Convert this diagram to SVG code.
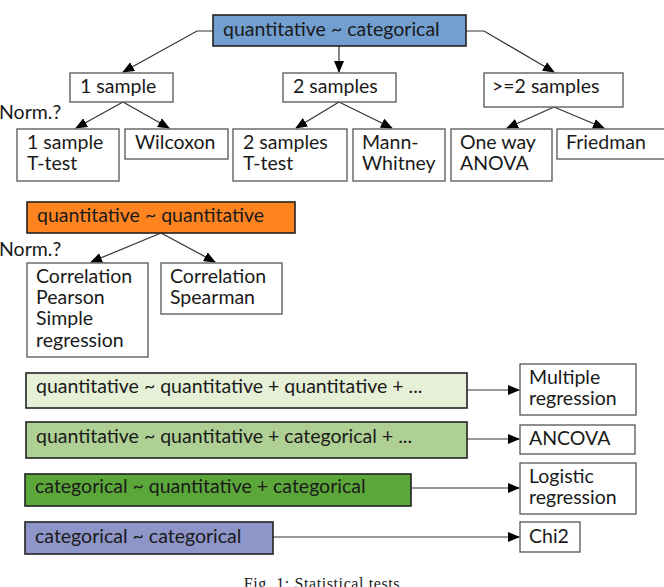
<svg xmlns="http://www.w3.org/2000/svg" width="664" height="587" viewBox="0 0 664 587">
<defs>
<marker id="ah" markerWidth="12" markerHeight="10" refX="11" refY="5" orient="auto" markerUnits="userSpaceOnUse">
<path d="M0,0 L12,5 L0,10 Z" fill="#000"/>
</marker>
<style>
text{font-family:Lato,"Liberation Sans",sans-serif;font-size:19.5px;fill:#1a1a1a}
.b{fill:#fff;stroke:#555;stroke-width:1.3}
.h{stroke:#222;stroke-width:1.6}
.c{fill:none;stroke:#333;stroke-width:1.2;marker-end:url(#ah)}
.cap{font-family:"Liberation Serif",serif;font-size:16px;letter-spacing:0.6px}
</style>
</defs>
<rect width="664" height="587" fill="#fff"/>
<g id="connectors">
<path class="c" d="M213,31 H197 L123,72"/>
<path class="c" d="M339,46 V72"/>
<path class="c" d="M466,31 H484 L554,72"/>
<path class="c" d="M123,102 L76,128"/>
<path class="c" d="M123,102 L169,128"/>
<path class="c" d="M339,102 L296,128"/>
<path class="c" d="M339,102 L392,128"/>
<path class="c" d="M554,107 L507,128"/>
<path class="c" d="M554,107 L604,128"/>
<path class="c" d="M161,233 L91,262"/>
<path class="c" d="M161,233 L215,262"/>
<path class="c" d="M467,390 H519"/>
<path class="c" d="M467,439 H519"/>
<path class="c" d="M411,488 H519"/>
<path class="c" d="M273,537 H519"/>
</g>
<g id="n-qc"><rect class="h" x="213" y="15" width="253" height="31" fill="#729fcf"/><text x="223" y="36">quantitative ~ categorical</text></g>
<g id="n-1s"><rect class="b" x="70" y="73" width="103" height="29"/><text x="80" y="93">1 sample</text></g>
<g id="n-2s"><rect class="b" x="283" y="73" width="113" height="29"/><text x="293" y="93">2 samples</text></g>
<g id="n-ge2"><rect class="b" x="484" y="73" width="139" height="34"/><text x="492" y="93">&gt;=2 samples</text></g>
<text x="-1" y="119">Norm.?</text>
<g id="n-1t"><rect class="b" x="17" y="129" width="102" height="52"/><text x="27" y="149">1 sample</text><text x="27" y="170">T-test</text></g>
<g id="n-wil"><rect class="b" x="125" y="129" width="103" height="30"/><text x="135" y="149">Wilcoxon</text></g>
<g id="n-2t"><rect class="b" x="233" y="129" width="114" height="52"/><text x="243" y="149">2 samples</text><text x="243" y="170">T-test</text></g>
<g id="n-mw"><rect class="b" x="353" y="129" width="92" height="52"/><text x="362" y="149">Mann-</text><text x="362" y="170">Whitney</text></g>
<g id="n-anova"><rect class="b" x="451" y="129" width="101" height="52"/><text x="460" y="149">One way</text><text x="460" y="170">ANOVA</text></g>
<g id="n-fried"><rect class="b" x="557" y="129" width="110" height="30"/><text x="566" y="149">Friedman</text></g>
<g id="n-qq"><rect class="h" x="27" y="202" width="268" height="31" fill="#ff8420"/><text x="37" y="222">quantitative ~ quantitative</text></g>
<text x="-1" y="256">Norm.?</text>
<g id="n-pear"><rect class="b" x="27" y="263" width="121" height="94"/><text x="36" y="283">Correlation</text><text x="36" y="304">Pearson</text><text x="36" y="325">Simple</text><text x="36" y="347">regression</text></g>
<g id="n-spear"><rect class="b" x="161" y="263" width="121" height="51"/><text x="170" y="283">Correlation</text><text x="170" y="304">Spearman</text></g>
<g id="n-a"><rect class="h" x="26" y="373" width="441" height="35" fill="#e6f0d7"/><text x="36" y="393">quantitative ~ quantitative + quantitative + ...</text></g>
<g id="n-b"><rect class="h" x="26" y="422" width="441" height="36" fill="#afd095"/><text x="36" y="443">quantitative ~ quantitative + categorical + ...</text></g>
<g id="n-c"><rect class="h" x="25" y="474" width="386" height="32" fill="#5ca73a"/><text x="35" y="493">categorical ~ quantitative + categorical</text></g>
<g id="n-d"><rect class="h" x="25" y="522" width="248" height="32" fill="#8e95c8"/><text x="35" y="543">categorical ~ categorical</text></g>
<g id="n-mr"><rect class="b" x="520" y="364" width="116" height="51"/><text x="529" y="384">Multiple</text><text x="529" y="405">regression</text></g>
<g id="n-ancova"><rect class="b" x="520" y="425" width="115" height="29"/><text x="529" y="445">ANCOVA</text></g>
<g id="n-log"><rect class="b" x="520" y="463" width="116" height="51"/><text x="529" y="483">Logistic</text><text x="529" y="504">regression</text></g>
<g id="n-chi"><rect class="b" x="520" y="522" width="60" height="30"/><text x="529" y="543">Chi2</text></g>
<text class="cap" x="322" y="589" text-anchor="middle">Fig. 1: Statistical tests</text>
</svg>
